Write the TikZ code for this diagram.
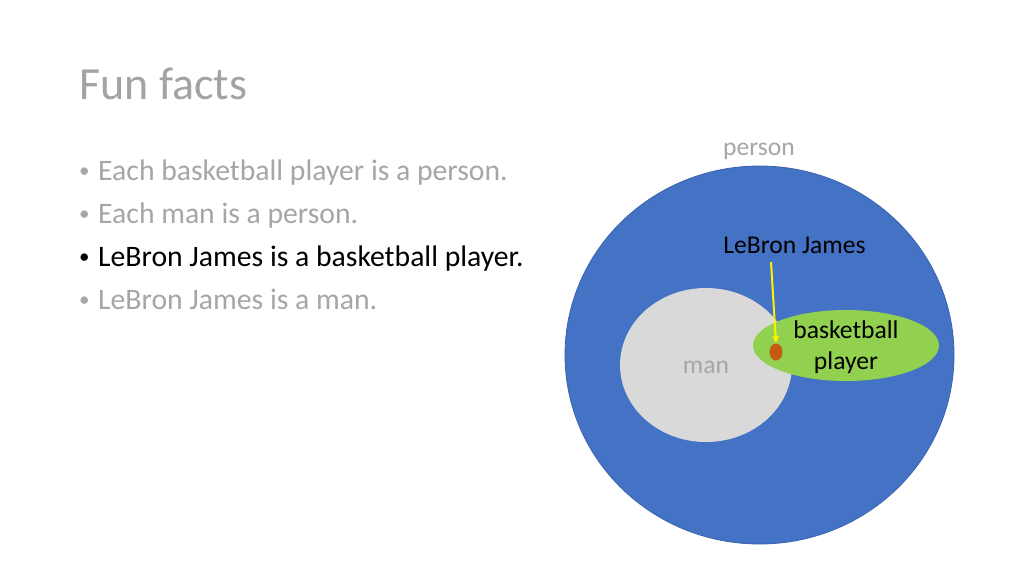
\documentclass[tikz,border=0pt]{standalone}
\usepackage{fontspec}
\setmainfont{Carlito}
\usetikzlibrary{shapes.geometric,arrows.meta}
\definecolor{txtgray}{HTML}{A6A6A6}
\definecolor{titlegray}{HTML}{A3A3A3}
\definecolor{setblue}{HTML}{4472C4}
\definecolor{setblueedge}{HTML}{3A64AD}
\definecolor{mangray}{HTML}{D9D9D9}
\definecolor{bbgreen}{HTML}{92D050}
\definecolor{dotorange}{HTML}{C55A11}
\newcommand{\bulletmark}{\makebox[20pt][l]{\hspace{1pt}{\fontsize{21}{21}\selectfont\raisebox{2.5pt}{\textbullet}}}}
\tikzset{
  title/.style={anchor=base west, inner sep=0pt, text=titlegray, font=\fontsize{46}{56}\selectfont},
  bullet/.style={anchor=base west, inner sep=0pt, font=\fontsize{29.7}{36}\selectfont},
  lbl/.style={anchor=base, inner sep=0pt, font=\fontsize{25.6}{30}\selectfont},
  lj arrow/.style={draw=yellow, line width=2pt, -{Triangle[length=7pt,width=6pt]}},
}
\begin{document}
\begin{tikzpicture}[x=1pt,y=-1pt]
\useasboundingbox[fill=white] (0,0) rectangle (1024,576);
% title
\node[title] (title) at (79,99) {Fun facts};
% bullets
\node[bullet, text=txtgray] (b1) at (78,180) {\bulletmark Each basketball player is a person.};
\node[bullet, text=txtgray] (b2) at (78,223) {\bulletmark Each man is a person.};
\node[bullet, text=black] (b3) at (78,266) {\bulletmark LeBron James is a basketball player.};
\node[bullet, text=txtgray] (b4) at (78,309) {\bulletmark LeBron James is a man.};
% sets
\fill[setblue, draw=setblueedge, line width=0.8pt] (759.5,355) ellipse [x radius=194.5pt, y radius=189pt];
\fill[mangray] (706,365) ellipse [x radius=86pt, y radius=77pt];
\fill[bbgreen] (846,345.5) ellipse [x radius=93pt, y radius=35.5pt];
% labels
\node[lbl, text=txtgray] (person) at (759,155) {person};
\node[lbl, text=txtgray] (man) at (706,373) {man};
\node[lbl, text=black] (bb1) at (846,338) {basketball};
\node[lbl, text=black] (bb2) at (846,369) {player};
\node[lbl, text=black] (lj) at (794.5,253) {LeBron James};
% LeBron dot and arrow
\node[ellipse, fill=dotorange, inner sep=0pt, minimum width=13pt, minimum height=17pt] (dot) at (776,352) {};
\coordinate (ljstart) at (771,262);
\draw[lj arrow] (ljstart) -- (dot.north);
\end{tikzpicture}
\end{document}
